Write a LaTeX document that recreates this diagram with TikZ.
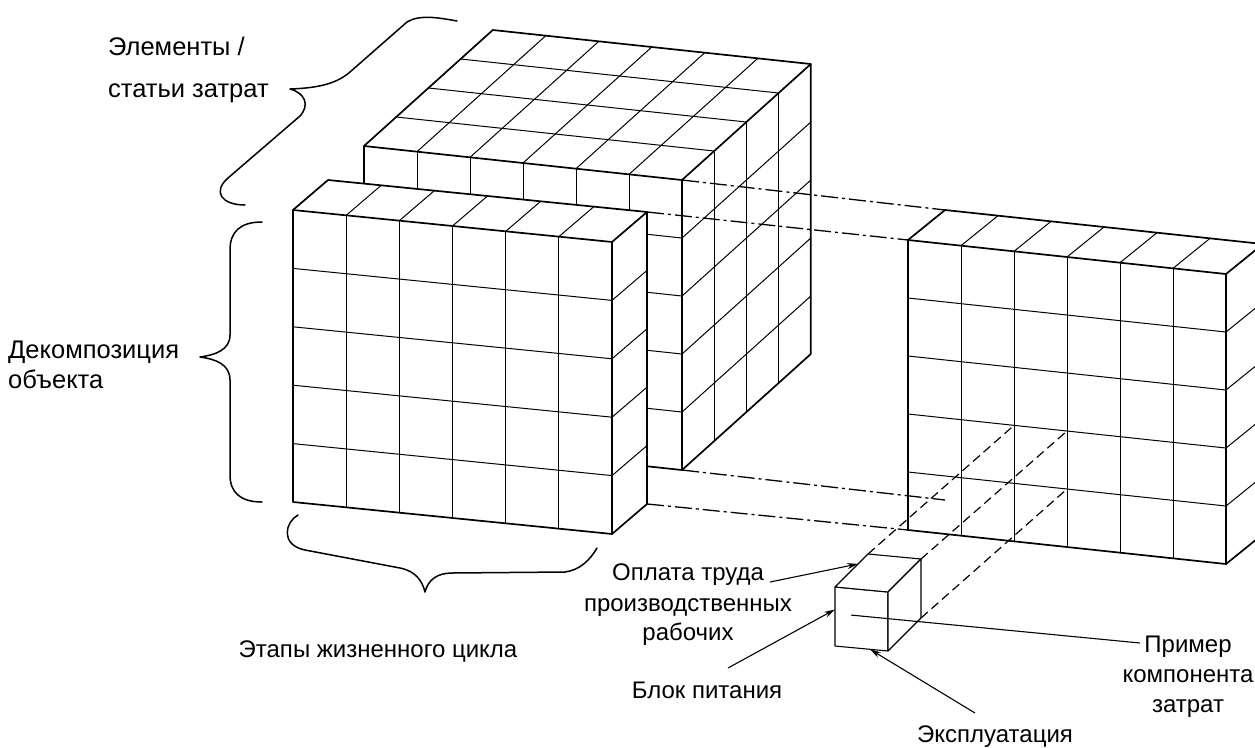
\documentclass[tikz,border=0pt]{standalone}
\usepackage{fontspec}
\setmainfont{Liberation Sans}
\usetikzlibrary{arrows.meta}
\tikzset{
 edge/.style={line width=1.7pt, line join=round, line cap=round},
 gridl/.style={line width=1pt},
 dashdot/.style={line width=1.3pt, dash pattern=on 17pt off 4pt on 3pt off 4pt},
 dashsm/.style={line width=1.2pt, dash pattern=on 9pt off 5pt},
 brace/.style={line width=1.5pt, line cap=round, line join=round},
 lbl/.style={font=\fontsize{24}{28}\selectfont, inner sep=0pt, anchor=base},
 biglbl/.style={font=\fontsize{25.5}{30}\selectfont, inner sep=0pt, anchor=base west},
 pointer/.style={line width=1.1pt, -{Stealth[length=11pt,width=6pt]}},
 smallcube/.style={line width=1.1pt, line join=round},
}
\newcommand\gridbox[1]{%
 \fill[white] (0,0,0) -- (6,0,0) -- (6,5,0) -- (0,5,0) -- cycle;
 \fill[white] (0,0,0) -- (6,0,0) -- (6,0,#1) -- (0,0,#1) -- cycle;
 \fill[white] (6,0,0) -- (6,0,#1) -- (6,5,#1) -- (6,5,0) -- cycle;
 \foreach \i in {1,...,5} {\draw[gridl] (\i,0,0) -- (\i,5,0); \draw[gridl] (\i,0,0) -- (\i,0,#1);}
 \foreach \j in {1,...,4} {\draw[gridl] (0,\j,0) -- (6,\j,0); \draw[gridl] (6,\j,0) -- (6,\j,#1);}
 \ifnum#1>1
 \pgfmathtruncatemacro\gbN{#1-1}
 \foreach \k in {1,...,\gbN} {\draw[gridl] (0,0,\k) -- (6,0,\k); \draw[gridl] (6,0,\k) -- (6,5,\k);}
 \fi
 \draw[edge] (0,5,0) -- (0,0,0) -- (0,0,#1) -- (6,0,#1) -- (6,5,#1) -- (6,5,0) -- cycle;
 \draw[edge] (0,0,0) -- (6,0,0) -- (6,5,0) (6,0,0) -- (6,0,#1);
}
\begin{document}
\begin{tikzpicture}[x=1pt,y=-1pt]
\useasboundingbox (0,0) rectangle (1255,747);
\fill[white] (0,0) rectangle (1255,747);
\clip (0,0) rectangle (1255,747);

% big cube
\begin{scope}[shift={(364,146)}, x={(53pt,-5.67pt)}, y={(0pt,-58pt)}, z={(32.2pt,29pt)}]
 \gridbox{4}
 \coordinate (cFTR) at (6,0,0);
 \coordinate (cFBR) at (6,5,0);
\end{scope}

% front slab
\begin{scope}[shift={(293,210)}, x={(53.17pt,-5.33pt)}, y={(0pt,-58.4pt)}, z={(35pt,30pt)}]
 \gridbox{1}
 \coordinate (sBTR) at (6,0,1);
 \coordinate (sBBR) at (6,5,1);
\end{scope}

% right slab
\begin{scope}[shift={(908,240)}, x={(53pt,-5.67pt)}, y={(0pt,-58pt)}, z={(37pt,30pt)}]
 \gridbox{1}
 \coordinate (rFTL) at (0,0,0);
 \coordinate (rBTL) at (0,0,1);
 \coordinate (rFBL) at (0,5,0);
 \coordinate (rBBL) at (0,5,1);
 \coordinate (rC1) at (2,3,0);
 \coordinate (rC2) at (3,3,0);
 \coordinate (rC3) at (3,4,0);
\end{scope}

% small cube
\begin{scope}[shift={(835,587)}, x={(53pt,-5pt)}, y={(0pt,-59pt)}, z={(33pt,33pt)}]
 \filldraw[smallcube, fill=white] (0,0,0) -- (1,0,0) -- (1,1,0) -- (0,1,0) -- cycle;
 \filldraw[smallcube, fill=white] (0,0,0) -- (0,0,1) -- (1,0,1) -- (1,0,0) -- cycle;
 \filldraw[smallcube, fill=white] (1,0,0) -- (1,0,1) -- (1,1,1) -- (1,1,0) -- cycle;
 \coordinate (kBTL) at (0,0,1);
 \coordinate (kBTR) at (1,0,1);
 \coordinate (kBBR) at (1,1,1);
 \coordinate (kTop) at (0,0,0.7);
 \coordinate (kLeft) at (0,0.38,0);
 \coordinate (kBot) at (0.66,1,0);
 \coordinate (kCen) at (0.3,0.45,0);
\end{scope}

% projection lines
\draw[dashdot] (cFTR) -- (rBTL);
\draw[dashdot] (sBTR) -- (rFTL);
\draw[dashdot] (cFBR) -- (rBBL);
\draw[dashdot] (sBBR) -- (rFBL);
\draw[dashsm] (kBTL) -- (rC1);
\draw[dashsm] (kBTR) -- (rC2);
\draw[dashsm] (kBBR) -- (rC3);

% braces
\draw[brace] (457,21) .. controls (440,18) and (420,14) .. (407,22) -- (350,72) .. controls (335,85) and (315,88) .. (290,89) .. controls (305,93) and (310,105) .. (300,116) -- (228,178) .. controls (212,192) and (222,205) .. (245,205);
\draw[brace] (262,222) .. controls (240,222) and (230,232) .. (230,250) -- (230,335) .. controls (230,350) and (215,355) .. (200,357) .. controls (215,359) and (230,364) .. (230,380) -- (230,475) .. controls (230,492) and (240,502) .. (262,502);
\draw[brace] (298,515) .. controls (285,522) and (280,545) .. (305,550) -- (400,568) .. controls (415,571) and (422,580) .. (425,592) .. controls (428,580) and (437,573) .. (452,573) -- (565,572) .. controls (580,570) and (590,560) .. (597,548);

% labels
\node[biglbl] (el1) at (108,55) {Элементы /};
\node[biglbl] (el2) at (108,97) {статьи затрат};
\node[biglbl] (dec1) at (8,358) {Декомпозиция};
\node[biglbl] (dec2) at (8,388) {объекта};
\node[lbl] (etap) at (378,657) {Этапы жизненного цикла};
\node[lbl] (op1) at (688,580) {Оплата труда};
\node[lbl] (op2) at (688,611) {производственных};
\node[lbl] (op3) at (688,640) {рабочих};
\node[lbl] (blok) at (707,698) {Блок питания};
\node[lbl] (expl) at (995,742) {Эксплуатация};
\node[lbl] (pr1) at (1188,652) {Пример};
\node[lbl] (pr2) at (1188,682) {компонента};
\node[lbl] (pr3) at (1188,712) {затрат};

% pointers
\coordinate (opS) at (770,582);
\coordinate (blS) at (728,668);
\coordinate (exS) at (975,713);
\coordinate (prE) at (1140,643);
\draw[pointer] (opS) -- (kTop);
\draw[pointer] (blS) -- (kLeft);
\draw[pointer] (exS) -- (kBot);
\draw[line width=1.1pt] (kCen) -- (prE);
\end{tikzpicture}
\end{document}
